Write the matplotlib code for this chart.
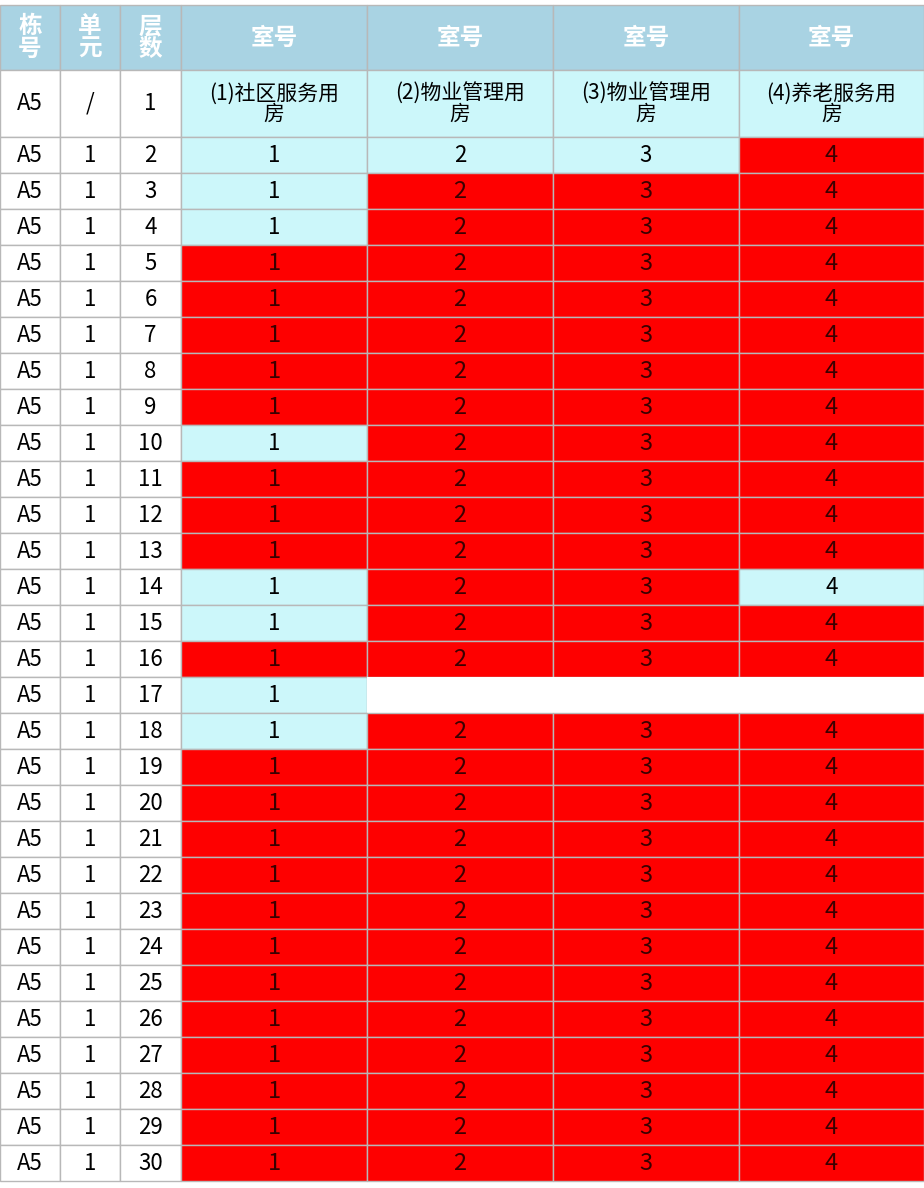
import matplotlib.pyplot as plt
from matplotlib.patches import Rectangle

plt.rcParams['font.family'] = ['Noto Sans CJK SC', 'DejaVu Sans']

# data
header_left = ['栋\n号', '单\n元', '层\n数']
header_rooms = ['室号', '室号', '室号', '室号']
room_names = ['(1)社区服务用\n房', '(2)物业管理用\n房', '(3)物业管理用\n房', '(4)养老服务用\n房']
floors = list(range(2, 31))
# C = available (cyan), R = sold (red), W = blank
status = {
    2: 'CCCR', 3: 'CRRR', 4: 'CRRR', 10: 'CRRR', 14: 'CRRC',
    15: 'CRRR', 17: 'CWWW', 18: 'CRRR',
}
building = 'A5'
unit = '1'

# layout (pixels)
col_x = [0, 60, 120, 181, 367, 553, 739, 924]
head_top, head_bot = 5, 70
row1_bot = 137
row_h = 36

head_col = '#a9d3e3'
cyan = '#ccf7fa'
red = '#fe0000'
grid = '#b8b8b8'

fig = plt.figure(figsize=(9.24, 11.88), dpi=100)
ax = fig.add_axes([0, 0, 1, 1])
ax.set_xlim(0, 924)
ax.set_ylim(1188, 0)
ax.axis('off')


def cell(i, y0, y1, color, text, tcolor='black', size=15, weight='normal'):
    x0, x1 = col_x[i], col_x[i + 1]
    ax.add_patch(Rectangle((x0, y0), x1 - x0, y1 - y0, facecolor=color,
                           edgecolor=grid, linewidth=1))
    if text:
        ax.text((x0 + x1) / 2, (y0 + y1) / 2, text, ha='center', va='center',
                color=tcolor, fontsize=size, weight=weight, linespacing=0.9)


for i in range(7):
    if i < 3:
        cell(i, head_top, head_bot, head_col, header_left[i], 'white', 17, 'bold')
    else:
        cell(i, head_top, head_bot, head_col, header_rooms[i - 3], 'white', 17, 'bold')

cell(0, head_bot, row1_bot, 'white', building, size=16)
cell(1, head_bot, row1_bot, 'white', '/', size=16)
cell(2, head_bot, row1_bot, 'white', '1', size=16)
for k in range(4):
    cell(3 + k, head_bot, row1_bot, cyan, room_names[k], size=15)

for r, f in enumerate(floors):
    y0 = row1_bot + r * row_h
    y1 = y0 + row_h
    cell(0, y0, y1, 'white', building, size=16)
    cell(1, y0, y1, 'white', unit, size=16)
    cell(2, y0, y1, 'white', str(f), size=16)
    st = status.get(f, 'RRRR')
    for k in range(4):
        s = st[k]
        if s == 'C':
            cell(3 + k, y0, y1, cyan, str(k + 1), size=16)
        elif s == 'R':
            cell(3 + k, y0, y1, red, str(k + 1), '#3a0000', 17)
        else:
            ax.add_patch(Rectangle((col_x[3 + k], y0), col_x[4 + k] - col_x[3 + k],
                                   row_h, facecolor='white', edgecolor='none'))

fig.savefig('out.png', dpi=100)
